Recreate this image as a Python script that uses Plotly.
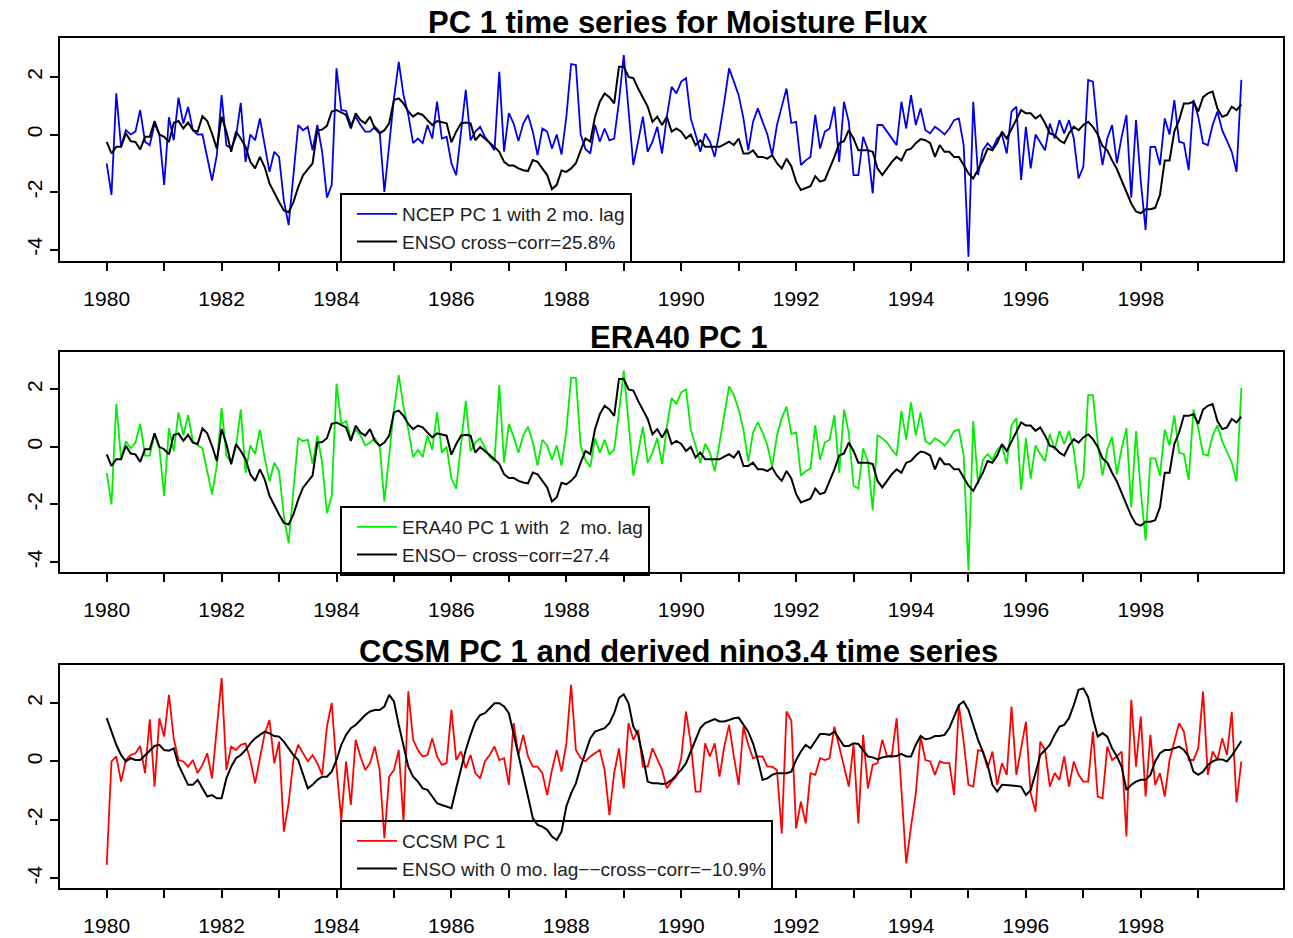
import plotly.graph_objects as go

# ---------------- data (monthly, starting Jan 1980) ----------------
START_YEAR = 1980
N_MONTHS = 238
months = [START_YEAR + i / 12 for i in range(N_MONTHS)]

ncep_pc1 = [
    -1.00, -2.10, 1.43, -0.43, 0.15, 0.00, 0.10, 0.85, -0.25, -0.37, 0.38, 0.00,
    -1.75, 0.60, -0.20, 1.28, 0.38, 0.96, 0.15, 0.00, 0.00, -0.84, -1.60, -0.72,
    1.37, -0.37, -0.49, -0.08, 1.10, -0.95, 0.00, -0.20, 0.56, -0.37, -1.30, -0.60,
    -0.78, -2.30, -3.15, -1.41, 0.33, 0.15, 0.27, -0.55, 0.33, -0.60, -2.20, -1.75,
    2.30, 0.85, 0.82, 0.33, 0.62, 0.33, 0.10, 0.10, 0.27, 0.10, -2.00, -0.37,
    1.26, 2.53, 1.37, 0.68, -0.30, -0.14, -0.30, 0.33, -0.14, 1.14, -0.14, -0.08,
    -1.00, -1.41, 0.00, 1.55, -0.20, 0.10, 0.27, -0.08, -0.30, -0.55, 2.18, -0.60,
    0.74, 0.38, -0.23, 0.38, 0.68, 0.10, -0.72, 0.21, 0.10, -0.49, 0.00, -0.70,
    0.60, 2.45, 2.42, 0.00, -0.50, -0.66, 0.33, -0.25, 0.21, -0.20, -0.14, 1.14,
    2.76, 0.90, -1.06, -0.25, 0.62, -0.60, -0.25, 0.27, -0.66, 0.62, 1.66, 1.43,
    1.84, 1.96, 0.56, 0.00, -0.60, 0.04, -0.25, -0.78, 0.10, 1.14, 2.30, 1.84,
    1.37, 0.56, -0.55, 0.44, 0.91, 0.44, 0.00, -0.72, 0.33, 0.97, 1.60, 0.40,
    0.44, -1.06, -0.90, -0.78, 0.68, -0.49, 0.10, 0.21, 0.97, -0.95, 1.14, 0.44,
    -1.41, -1.41, -0.08, -0.55, -2.05, 0.33, 0.33, 0.10, -0.14, -0.37, 1.14, 0.21,
    1.37, 0.33, 0.91, 0.15, 0.04, 0.27, 0.15, 0.00, 0.21, 0.50, 0.56, -0.37,
    -4.25, 1.14, -1.41, -0.55, -0.30, -0.49, -0.14, 0.00, -0.66, 0.80, 0.97, -1.58,
    0.27, -1.18, 0.00, -0.30, -0.55, 0.38, -0.14, 0.50, 0.04, 0.50, -0.14, -1.53,
    -1.12, 1.90, 1.84, 0.10, -1.06, -0.14, 0.33, -1.00, -0.08, 0.68, -2.20, 0.50,
    -1.64, -3.32, -0.43, -0.43, -1.06, 0.56, 0.00, 1.20, -0.25, -0.30, -1.24, 1.20,
    0.62, -0.30, -0.37, 0.33, 0.80, 0.15, -0.20, -0.60, -1.30, 1.90,
]

era40_pc1 = [
    -0.90, -2.00, 1.50, -0.40, 0.20, -0.05, 0.15, 0.80, -0.30, -0.30, 0.45, -0.05,
    -1.70, 0.65, -0.15, 1.20, 0.40, 1.10, 0.20, 0.05, -0.05, -0.80, -1.65, -0.65,
    1.35, -0.30, -0.55, 0.00, 1.30, -0.90, 0.05, -0.25, 0.60, -0.40, -1.20, -0.55,
    -0.85, -2.40, -3.35, -1.50, 0.30, 0.20, 0.25, -0.60, 0.40, -0.55, -2.30, -1.70,
    2.20, 0.80, 0.90, 0.30, 0.60, 0.40, 0.05, 0.15, 0.30, 0.05, -1.90, -0.30,
    1.30, 2.50, 1.40, 0.60, -0.35, -0.10, -0.35, 0.40, -0.10, 1.20, -0.20, 0.00,
    -1.10, -1.45, 0.05, 1.60, -0.15, 0.15, 0.30, -0.05, -0.35, -0.50, 2.15, -0.55,
    0.80, 0.35, -0.20, 0.40, 0.70, 0.15, -0.65, 0.25, 0.05, -0.45, 0.05, -0.65,
    0.55, 2.40, 2.40, 0.05, -0.45, -0.70, 0.30, -0.20, 0.25, -0.25, -0.10, 1.20,
    2.65, 0.85, -1.00, -0.20, 0.70, -0.55, -0.20, 0.30, -0.60, 0.70, 1.70, 1.50,
    1.90, 2.00, 0.60, 0.05, -0.55, 0.10, -0.20, -0.85, 0.15, 1.20, 2.10, 1.80,
    1.30, 0.60, -0.50, 0.50, 0.85, 0.50, 0.05, -0.70, 0.40, 1.00, 1.40, 0.45,
    0.50, -1.00, -0.85, -0.75, 0.75, -0.45, 0.15, 0.25, 1.10, -0.90, 1.30, 0.50,
    -1.35, -1.45, -0.05, -0.50, -2.20, 0.40, 0.30, 0.15, -0.10, -0.30, 1.25, 0.25,
    1.55, 0.40, 1.20, 0.20, 0.10, 0.30, 0.20, 0.05, 0.25, 0.55, 0.60, -0.30,
    -4.30, 0.90, -1.30, -0.45, -0.25, -0.45, -0.10, 0.05, -0.60, 0.75, 1.00, -1.50,
    0.30, -1.10, 0.05, -0.25, -0.50, 0.45, -0.10, 0.55, 0.10, 0.55, -0.10, -1.45,
    -1.05, 1.80, 1.80, 0.15, -1.00, -0.10, 0.35, -0.95, -0.05, 0.65, -2.10, 0.55,
    -1.55, -3.25, -0.40, -0.40, -1.00, 0.60, 0.05, 1.10, -0.20, -0.25, -1.15, 1.30,
    0.65, -0.25, -0.30, 0.40, 0.75, 0.20, -0.15, -0.55, -1.20, 2.05,
]

enso_lag2 = [
    -0.26, -0.66, -0.43, -0.43, 0.04, -0.23, -0.26, -0.52, -0.08, -0.08, 0.47, 0.00,
    -0.08, -0.26, 0.41, 0.47, 0.21, 0.42, 0.15, 0.10, 0.64, 0.47, 0.03, -0.49,
    0.62, 0.10, -0.60, 0.10, -0.14, -0.43, -0.95, -1.18, -0.78, -1.13, -1.70, -2.05,
    -2.35, -2.64, -2.70, -2.35, -1.83, -1.42, -1.20, -1.00, 0.15, 0.17, 0.30, 0.80,
    0.85, 0.77, 0.68, 0.21, 0.74, 0.50, 0.39, 0.62, 0.21, 0.04, 0.15, 0.39,
    1.20, 1.26, 1.08, 0.80, 0.62, 0.74, 0.68, 0.50, 0.33, 0.47, 0.42, 0.39,
    -0.27, 0.10, 0.39, 0.42, 0.39, -0.20, 0.00, -0.14, -0.30, -0.43, -0.60, -0.95,
    -1.08, -1.08, -1.18, -1.24, -1.27, -0.89, -0.95, -1.18, -1.41, -1.90, -1.75, -1.25,
    -1.30, -1.18, -1.00, -0.55, -0.14, -0.25, 0.62, 1.14, 1.43, 1.30, 1.08, 2.36,
    2.36, 2.00, 1.96, 1.60, 1.30, 0.97, 0.44, 0.62, 0.33, 0.62, 0.10, 0.21,
    0.10, -0.14, 0.00, -0.37, -0.20, -0.43, -0.43, -0.43, -0.43, -0.34, -0.25, -0.37,
    -0.14, -0.66, -0.66, -0.55, -0.78, -0.78, -0.84, -0.72, -1.00, -1.18, -0.84, -1.10,
    -1.64, -1.93, -1.87, -1.80, -1.45, -1.64, -1.58, -1.18, -0.78, -0.30, -0.23, 0.15,
    -0.14, -0.55, -0.55, -0.55, -0.60, -1.18, -1.41, -1.18, -0.95, -0.78, -0.90, -0.55,
    -0.49, -0.30, -0.16, -0.20, -0.30, -0.78, -0.37, -0.60, -0.60, -0.78, -0.78, -1.06,
    -1.35, -1.53, -1.24, -0.90, -0.49, -0.55, -0.30, 0.10, -0.14, 0.20, 0.56, 0.85,
    0.74, 0.74, 0.56, 0.68, 0.39, 0.04, -0.02, -0.20, -0.30, 0.04, 0.27, 0.15,
    0.33, 0.44, 0.27, 0.00, -0.40, -0.55, -0.90, -1.20, -1.60, -2.00, -2.40, -2.68,
    -2.74, -2.60, -2.60, -2.55, -2.10, -0.90, -0.90, 0.10, 0.50, 1.08, 1.08, 1.14,
    0.80, 1.30, 1.43, 1.49, 0.90, 0.62, 0.68, 0.97, 0.85, 1.05,
]

ccsm_pc1 = [
    -3.54, 0.00, 0.17, -0.69, 0.05, 0.22, 0.28, 0.53, -0.40, 1.44, -0.86, 1.48,
    0.85, 2.28, 0.79, 0.05, 0.00, -0.18, 0.05, -0.40, -0.12, 0.28, -0.58, 1.19,
    2.85, -0.29, 0.51, 0.39, 0.57, 0.62, 0.05, -0.75, 0.17, 0.96, 1.42, -0.06,
    0.68, -2.40, -1.43, 0.05, 0.57, 0.28, 0.00, 0.22, -0.06, -0.46, 1.19, 2.00,
    -0.20, -2.00, 0.00, -1.49, 0.74, 0.17, -0.29, -0.06, 0.51, -0.29, -2.63, -0.52,
    -0.29, 0.39, -2.06, 2.40, 0.74, 0.39, 0.17, 0.22, 0.79, 0.17, -0.12, -0.06,
    1.77, 0.05, 0.34, -0.23, 0.22, -0.40, -0.58, 0.00, 0.22, 0.51, 0.05, 0.11,
    -0.80, 1.31, 0.22, 0.91, 0.17, -0.18, -0.18, -0.40, -1.15, -0.29, 0.39, -0.35,
    0.60, 2.62, 0.39, 0.11, 0.00, 0.17, 0.28, 0.39, -0.29, -1.83, -0.40, 0.45,
    -0.92, 1.31, 0.74, 1.08, -0.18, -0.18, 0.45, 0.05, -0.29, -0.92, -0.69, -0.52,
    0.11, 1.71, 0.62, -1.03, -1.03, 0.62, 0.17, 0.62, -0.52, 0.51, 1.25, 0.17,
    -0.80, 1.19, 0.57, 0.11, 0.17, 0.17, -0.18, -0.18, -0.29, -2.46, 1.71, 1.40,
    -2.29, -1.38, -2.12, -0.40, -0.46, 0.11, 0.05, 0.11, 1.19, 0.51, -0.18, -0.86,
    0.57, -2.12, 0.91, -0.92, -0.12, -0.06, 0.74, 0.17, 0.22, 1.48, -0.98, -3.49,
    -2.23, -1.09, 0.85, 0.05, 0.00, -0.46, 0.00, -0.06, -0.06, -1.15, 1.93, 0.68,
    -0.80, -0.86, 0.39, 0.34, -0.23, 0.34, -0.80, -0.06, -0.46, 1.88, -0.46, 0.39,
    1.36, -1.09, -1.72, 0.68, 0.39, -0.86, -0.40, -0.63, 0.17, -0.86, 0.00, -0.46,
    -0.69, -0.69, 1.02, -1.20, -1.26, 0.51, 0.05, 0.17, 0.34, -2.57, 2.11, -0.18,
    1.54, -1.20, 0.91, -0.80, -0.40, -1.20, 0.05, 0.68, 1.31, 1.02, 0.05, 0.05,
    0.45, 2.39, -0.46, 0.34, 0.05, 0.79, 0.22, 1.70, -1.40, 0.00,
]

ccsm_nino34 = [
    1.48, 1.02, 0.57, 0.22, 0.00, 0.11, 0.05, 0.05, 0.22, 0.39, 0.53, 0.57,
    0.39, 0.37, 0.45, -0.12, -0.46, -0.80, -0.80, -0.63, -0.92, -1.20, -1.15, -1.26,
    -1.26, -0.58, -0.18, 0.11, 0.22, 0.39, 0.62, 0.79, 0.91, 1.02, 0.96, 0.87,
    0.85, 0.68, 0.45, 0.22, 0.05, -0.46, -0.92, -0.80, -0.63, -0.52, -0.52, -0.35,
    0.05, 0.57, 0.91, 1.14, 1.25, 1.42, 1.59, 1.71, 1.76, 1.76, 1.88, 2.28,
    2.05, 1.25, 0.51, -0.18, -0.52, -0.69, -0.92, -0.97, -1.20, -1.43, -1.49, -1.54,
    -1.60, -0.92, -0.29, 0.39, 0.91, 1.36, 1.59, 1.65, 1.82, 1.99, 1.99, 1.88,
    1.65, 0.96, 0.17, -0.52, -1.20, -1.94, -2.17, -2.23, -2.34, -2.57, -2.69, -2.40,
    -1.54, -1.09, -0.75, -0.18, 0.28, 0.79, 1.02, 1.08, 1.14, 1.31, 1.65, 2.17,
    2.30, 1.99, 1.19, 0.91, 0.17, -0.69, -0.75, -0.75, -0.77, -0.75, -0.63, -0.46,
    -0.29, -0.06, 0.34, 0.79, 1.14, 1.31, 1.39, 1.45, 1.37, 1.37, 1.42, 1.48,
    1.50, 1.25, 1.02, 0.62, 0.05, -0.63, -0.58, -0.46, -0.40, -0.40, -0.40, -0.35,
    0.05, 0.34, 0.57, 0.45, 0.68, 0.94, 0.94, 0.91, 1.02, 0.79, 0.53, 0.53,
    0.62, 0.60, 0.39, 0.17, 0.14, 0.07, 0.14, 0.17, 0.17, 0.19, 0.26, 0.17,
    0.17, 0.57, 0.87, 0.76, 0.79, 0.87, 0.87, 0.91, 1.14, 1.53, 1.93, 2.05,
    1.76, 1.25, 0.74, 0.34, -0.12, -0.80, -1.03, -0.80, -0.80, -0.82, -0.84, -0.86,
    -1.15, -0.98, -0.40, 0.22, 0.39, 0.57, 0.91, 1.19, 1.25, 1.48, 1.93, 2.45,
    2.50, 2.20, 1.48, 0.85, 0.97, 0.85, 0.45, 0.17, -0.18, -0.98, -0.80, -0.69,
    -0.63, -0.63, -0.46, 0.00, 0.28, 0.39, 0.39, 0.45, 0.51, 0.39, 0.17, -0.35,
    -0.46, -0.35, -0.12, 0.00, 0.07, 0.07, 0.00, 0.20, 0.45, 0.70,
]

year_ticks = list(range(1980, 2000))
year_labels = [str(y) if y % 2 == 0 else "" for y in year_ticks]
y_ticks = [-4, -2, 0, 2]
y_labels = ["-4", "-2", "0", "2"]

titles = [
    "PC 1 time series for Moisture Flux",
    "ERA40 PC 1",
    "CCSM PC 1 and derived nino3.4 time series",
]
legend_names = [
    ("NCEP PC 1 with 2 mo. lag", "ENSO cross\u2212corr=25.8%"),
    ("ERA40 PC 1 with\u00a0 2\u00a0 mo. lag", "ENSO\u2212 cross\u2212corr=27.4"),
    ("CCSM PC 1", "ENSO with 0 mo. lag\u2212\u2212cross\u2212corr=\u221210.9%"),
]
pc_series = [ncep_pc1, era40_pc1, ccsm_pc1]
enso_series = [enso_lag2, enso_lag2, ccsm_nino34]
pc_colors = ["#0000ee", "#00ee00", "#ff0000"]

# ---------------- layout geometry (pixels) ----------------
W, H = 1293, 938
FONT = "Liberation Sans, Arial, sans-serif"
box_x = (60, 1283)
x_range = [1979.187, 2000.475]
boxes_y = [(38, 261), (352, 572), (665, 888)]
y_ranges = [(-4.40, 3.357), (-4.35, 3.30), (-4.33, 3.30)]
title_y = [22, 337, 651]
legend_pos = [(340, 193), (340, 506), (340, 820)]

fig = go.Figure()

for k in range(3):
    sfx = "" if k == 0 else str(k + 1)
    xa, ya = "x" + sfx, "y" + sfx
    lg = "legend" + sfx
    fig.add_trace(go.Scatter(
        x=months, y=pc_series[k], mode="lines", name=legend_names[k][0],
        line=dict(color=pc_colors[k], width=1.8), xaxis=xa, yaxis=ya, legend=lg,
    ))
    fig.add_trace(go.Scatter(
        x=months, y=enso_series[k], mode="lines", name=legend_names[k][1],
        line=dict(color="black", width=2), xaxis=xa, yaxis=ya, legend=lg,
    ))

    top, bot = boxes_y[k]
    fig.layout["xaxis" + sfx] = dict(
        domain=[box_x[0] / W, box_x[1] / W], anchor=ya,
        range=x_range, tickmode="array",
        tickvals=year_ticks, ticktext=year_labels,
        ticks="outside", ticklen=8, tickwidth=1.5, tickcolor="black",
        showline=True, mirror=True, linecolor="black", linewidth=2,
        showgrid=False, zeroline=False,
        tickfont=dict(family=FONT, size=21, color="black"),
        ticklabelstandoff=10,
    )
    fig.layout["yaxis" + sfx] = dict(
        domain=[1 - bot / H, 1 - top / H], anchor=xa,
        range=list(y_ranges[k]), tickmode="array",
        tickvals=y_ticks, ticktext=y_labels, tickangle=-90,
        ticks="outside", ticklen=8, tickwidth=1.5, tickcolor="black",
        showline=True, mirror=True, linecolor="black", linewidth=2,
        showgrid=False, zeroline=False,
        tickfont=dict(family=FONT, size=21, color="black"),
    )
    lx, ly = legend_pos[k]
    fig.layout[lg] = dict(
        x=lx / W, y=1 - ly / H, xanchor="left", yanchor="top",
        bgcolor="rgba(0,0,0,0)", bordercolor="black", borderwidth=2,
        font=dict(family=FONT, size=19, color="#222222"),
        tracegroupgap=0, itemwidth=40, indentation=10,
    )
    fig.add_annotation(
        text="<b>" + titles[k] + "</b>", xref="paper", yref="paper",
        x=678 / W, y=1 - title_y[k] / H, xanchor="center", yanchor="middle",
        showarrow=False, font=dict(family=FONT, size=31, color="black"),
    )

fig.update_layout(
    width=W, height=H, margin=dict(l=0, r=0, t=0, b=0),
    paper_bgcolor="white", plot_bgcolor="white", showlegend=True,
)

fig.write_html("out.html")
